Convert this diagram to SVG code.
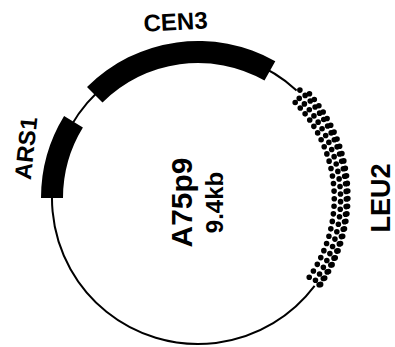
<svg xmlns="http://www.w3.org/2000/svg" width="395" height="347" viewBox="0 0 395 347">
  <style>
    .backbone { fill: none; stroke: #000; stroke-width: 2; }
    .block { fill: #000; stroke: none; }
    .dots { fill: none; stroke: #000; stroke-width: 5.6; stroke-linecap: round; stroke-dasharray: 0 7.6; }
    .label { font-family: "Liberation Sans", Arial, sans-serif; font-weight: bold; fill: #000; text-anchor: middle; }
  </style>
  <rect width="395" height="347" fill="#fff"/>

  <!-- plasmid backbone (centre 198,198, r 146), open where the LEU2 band sits -->
  <g id="connectors">
    <path class="backbone" d="M 314.6 285.9 A 146 146 0 1 1 296.6 90.4"/>
  </g>

  <g id="ars1">
    <path class="block" d="M 41 198 A 157 157 0 0 1 64.1 116.0 L 82.9 127.5 A 135 135 0 0 0 63 198 Z"/>
    <text class="label" font-size="23.5" transform="translate(34,149) rotate(-84)">ARS1</text>
  </g>

  <g id="cen3">
    <path class="block" d="M 87.0 87.0 A 157 157 0 0 1 275.3 61.3 L 264.5 80.5 A 135 135 0 0 0 102.5 102.5 Z"/>
    <text class="label" font-size="24" transform="translate(176,30) rotate(-3)">CEN3</text>
  </g>

  <!-- LEU2: stippled band of staggered dot rows following the arc -->
  <g id="leu2">
    <path class="dots" d="M 295.2 102.5 A 137 137 0 0 1 306.5 281.0"/>
    <path class="dots" stroke-dashoffset="3.8" d="M 296.6 95.8 A 143.5 143.5 0 0 1 313.5 283.1"/>
    <path class="dots" d="M 299.9 90.1 A 150 150 0 0 1 317.0 287.7"/>
    <path class="dots" stroke-dashoffset="3.8" d="M 307.0 91.0 A 156 156 0 0 1 319.5 286.0"/>
    <text class="label" font-size="27" transform="translate(390,198) rotate(-90)">LEU2</text>
  </g>

  <g id="title">
    <text class="label" font-size="30" transform="translate(192,202.5) rotate(-90)">A75p9</text>
    <text class="label" font-size="24" transform="translate(223,202.5) rotate(-90)">9.4kb</text>
  </g>
</svg>
